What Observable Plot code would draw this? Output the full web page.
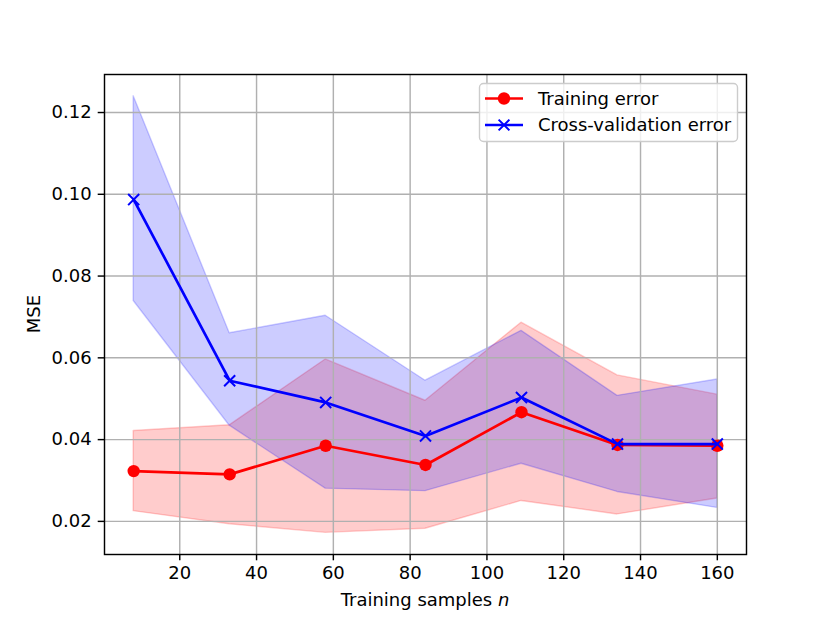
<!DOCTYPE html>
<html>
<head>
<meta charset="utf-8">
<script src="https://cdn.jsdelivr.net/npm/d3@7"></script>
<script src="https://cdn.jsdelivr.net/npm/@observablehq/plot@0.6"></script>
<style>
  html, body { margin: 0; padding: 0; background: #fff; }
  #chart svg { display: block; }
</style>
</head>
<body>
<div id="chart"></div>
<script>
const n = [8, 33, 58, 84, 109, 134, 160];
const trainMean = [0.0323, 0.0315, 0.0385, 0.0338, 0.0467, 0.0387, 0.0385];
const trainLo   = [0.0225, 0.0193, 0.0172, 0.0182, 0.0250, 0.0217, 0.0256];
const trainHi   = [0.0421, 0.0435, 0.0596, 0.0495, 0.0686, 0.0557, 0.0510];
const cvMean = [0.0987, 0.0544, 0.0491, 0.0409, 0.0503, 0.0389, 0.0389];
const cvLo   = [0.0739, 0.0434, 0.0280, 0.0274, 0.0341, 0.0272, 0.0233];
const cvHi   = [0.1240, 0.0660, 0.0703, 0.0544, 0.0666, 0.0507, 0.0547];
const xTicks = [20, 40, 60, 80, 100, 120, 140, 160];
const yTicks = [0.02, 0.04, 0.06, 0.08, 0.10, 0.12];
const seriesNames = ["Training error", "Cross-validation error"];

const train = n.map((v, i) => ({n: v, mean: trainMean[i], lo: trainLo[i], hi: trainHi[i]}));
const cv = n.map((v, i) => ({n: v, mean: cvMean[i], lo: cvLo[i], hi: cvHi[i]}));

const W = 830, H = 623, mL = 104, mR = 84, mT = 74, mB = 69;
const RED = "#ff0000", BLUE = "#0000ff", GRID = "#b0b0b0";

const chart = Plot.plot({
  width: W, height: H,
  marginLeft: mL, marginRight: mR, marginTop: mT, marginBottom: mB,
  style: {fontFamily: "DejaVu Sans", fontSize: "18px", color: "black", background: "white"},
  x: {domain: [0.4, 167.6]},
  y: {domain: [0.0119, 0.1293]},
  marks: [
    Plot.areaY(train, {x: "n", y1: "lo", y2: "hi", fill: RED, fillOpacity: 0.2, stroke: RED, strokeOpacity: 0.2, strokeWidth: 1.4}),
    Plot.areaY(cv, {x: "n", y1: "lo", y2: "hi", fill: BLUE, fillOpacity: 0.2, stroke: BLUE, strokeOpacity: 0.2, strokeWidth: 1.4}),
    Plot.gridX(xTicks, {stroke: GRID, strokeOpacity: 1, strokeWidth: 1.44}),
    Plot.gridY(yTicks, {stroke: GRID, strokeOpacity: 1, strokeWidth: 1.44}),
    Plot.line(train, {x: "n", y: "mean", stroke: RED, strokeWidth: 2.7}),
    Plot.dot(train, {x: "n", y: "mean", fill: RED, r: 6.2}),
    Plot.line(cv, {x: "n", y: "mean", stroke: BLUE, strokeWidth: 2.7}),
    Plot.dot(cv, {x: "n", y: "mean", symbol: "times", stroke: BLUE, strokeWidth: 2, r: 5.1}),
    Plot.axisX({ticks: xTicks, tickSize: 6.3, tickPadding: 5.5, label: null, strokeWidth: 1.44, fontSize: 18}),
    Plot.axisY({ticks: yTicks, tickSize: 6.3, tickPadding: 6.5, label: null, tickFormat: d3.format(".2f"), strokeWidth: 1.44, fontSize: 18}),
    Plot.frame({stroke: "black", strokeWidth: 1.44})
  ]
});
document.getElementById("chart").appendChild(chart);

const svg = d3.select(chart);
// axis labels
const xl = svg.append("text")
  .attr("x", mL + (W - mL - mR) / 2).attr("y", 606)
  .attr("text-anchor", "middle")
  .attr("font-family", "DejaVu Sans").attr("font-size", 18).attr("fill", "black");
xl.append("tspan").text("Training samples ");
xl.append("tspan").attr("font-style", "italic").text("n");

svg.append("text")
  .attr("transform", `translate(40,${mT + (H - mT - mB) / 2}) rotate(-90)`)
  .attr("text-anchor", "middle")
  .attr("font-family", "DejaVu Sans").attr("font-size", 18).attr("fill", "black")
  .text("MSE");

// legend
const lg = svg.append("g");
lg.append("rect").attr("x", 479.5).attr("y", 83.5).attr("width", 258).attr("height", 58)
  .attr("rx", 4).attr("fill", "white").attr("fill-opacity", 0.8)
  .attr("stroke", "#cccccc").attr("stroke-width", 1.4);
const rows = [
  {name: seriesNames[0], color: RED, y: 98.5, marker: "dot"},
  {name: seriesNames[1], color: BLUE, y: 125, marker: "x"}
];
rows.forEach(r => {
  lg.append("line").attr("x1", 485).attr("x2", 523).attr("y1", r.y).attr("y2", r.y)
    .attr("stroke", r.color).attr("stroke-width", 2.7);
  if (r.marker === "dot") {
    lg.append("circle").attr("cx", 504).attr("cy", r.y).attr("r", 6.2).attr("fill", r.color);
  } else {
    lg.append("path").attr("d", `M${504-5.4},${r.y-5.4}L${504+5.4},${r.y+5.4}M${504-5.4},${r.y+5.4}L${504+5.4},${r.y-5.4}`)
      .attr("stroke", r.color).attr("stroke-width", 2);
  }
  lg.append("text").attr("x", 538).attr("y", r.y).attr("dy", "0.35em")
    .attr("text-anchor", "start")
    .attr("font-family", "DejaVu Sans").attr("font-size", 18).attr("fill", "black")
    .text(r.name);
});
</script>
</body>
</html>
